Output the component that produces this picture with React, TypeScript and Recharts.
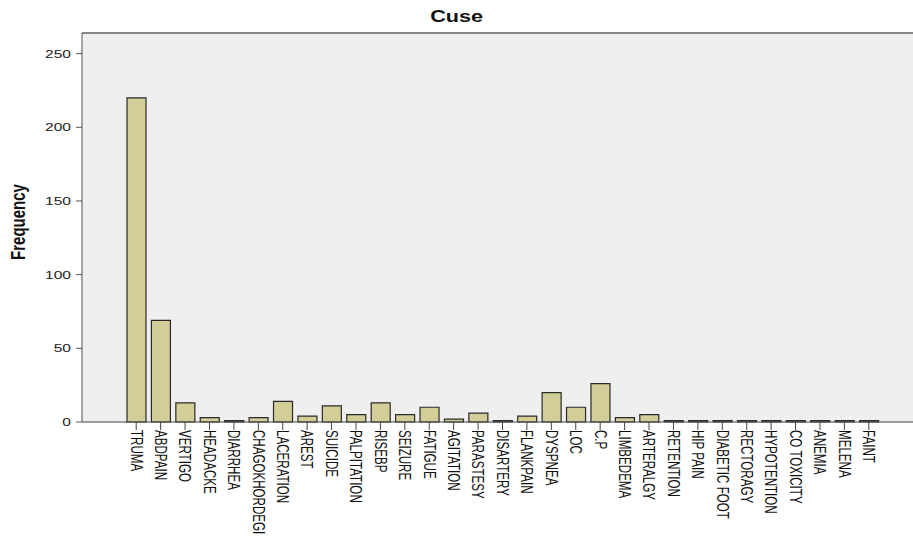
import { BarChart, Bar, XAxis, YAxis, CartesianGrid, ReferenceLine } from "recharts"

/* ---------------------------------
   Data
---------------------------------- */
const categories = [
  "TRUMA", "ABDPAIN", "VERTIGO", "HEADACKE", "DIARRHEA", "CHAGOKHORDEGI",
  "LACERATION", "AREST", "SUICIDE", "PALPITATION", "RISEBP", "SEIZURE",
  "FATIGUE", "AGITATION", "PARASTESY", "DISARTERY", "FLANKPAIN", "DYSPNEA",
  "LOC", "C.P", "LIMBEDEMA", "ARTERALGY", "RETENTION", "HIP PAIN",
  "DIABETIC FOOT", "RECTORAGY", "HYPOTENTION", "CO TOXICITY", "ANEMIA",
  "MELENA", "FAINT",
]

const frequency = [
  220, 69, 13, 3, 1, 3,
  14, 4, 11, 5, 13, 5,
  10, 2, 6, 1, 4, 20,
  10, 26, 3, 5, 1, 1,
  1, 1, 1, 1, 1,
  1, 1,
]

const yTicks = [0, 50, 100, 150, 200, 250]
const yMax = 264

const data = categories.map((name, i) => ({ name, count: frequency[i] }))

const FONT = "'Liberation Sans', Arial, sans-serif"
// the source picture is stretched sideways, so text gets a small x scale
const STRETCH = 1.35

/* ---------------------------------
   Ticks
---------------------------------- */
function CategoryTick({ x, y, payload }: { x?: number; y?: number; payload?: { value?: string } }) {
  return (
    <g transform={`translate(${x},${y}) scale(${STRETCH},1) rotate(90)`}>
      <text x={0} y={0} dy="0.36em" textAnchor="start" fontSize={11.6} fontFamily={FONT} fill="#111">
        {payload?.value}
      </text>
    </g>
  )
}

function ValueTick({ x, y, payload }: { x?: number; y?: number; payload?: { value?: number } }) {
  return (
    <g transform={`translate(${x},${y}) scale(${STRETCH},1)`}>
      <text x={0} y={0} dy="0.36em" textAnchor="end" fontSize={11.5} fontFamily={FONT} fill="#222">
        {payload?.value}
      </text>
    </g>
  )
}

function FrequencyLabel() {
  return (
    <g transform={`translate(18,222) scale(${STRETCH},1) rotate(-90)`}>
      <text x={0} y={0} dy="0.36em" textAnchor="middle" fontSize={15} fontWeight="bold" fontFamily={FONT} fill="#111">
        Frequency
      </text>
    </g>
  )
}

/* ---------------------------------
   Chart
---------------------------------- */
export default function App() {
  return (
    <div style={{ position: "absolute", left: 0, top: 0, width: 913, height: 536, background: "#fff" }}>
      <div
        style={{
          position: "absolute",
          top: 8,
          left: 0,
          width: 913,
          textAlign: "center",
          fontFamily: FONT,
          fontWeight: "bold",
          fontSize: 16,
          color: "#111",
        }}
      >
        <span style={{ display: "inline-block", transform: `scaleX(${STRETCH})` }}>Cuse</span>
      </div>
      <BarChart
        width={913}
        height={536}
        data={data}
        margin={{ top: 33, right: 0, bottom: 0, left: 0 }}
        barSize={19}
      >
        <CartesianGrid horizontal={false} vertical={false} fill="#efefef" />
        <ReferenceLine y={yMax} stroke="#888" strokeWidth={2} />
        <XAxis
          dataKey="name"
          type="category"
          interval={0}
          height={114}
          padding={{ left: 42, right: 32 }}
          tickSize={8}
          tickMargin={0}
          stroke="#444"
          tick={<CategoryTick />}
        />
        <YAxis
          type="number"
          domain={[0, yMax]}
          ticks={yTicks}
          width={82}
          tickSize={6}
          tickMargin={5}
          stroke="#555"
          tick={<ValueTick />}
          label={<FrequencyLabel />}
        />
        <Bar dataKey="count" fill="#d3ce97" stroke="#2a2a2a" strokeWidth={1.2} isAnimationActive={false} />
      </BarChart>
    </div>
  )
}
